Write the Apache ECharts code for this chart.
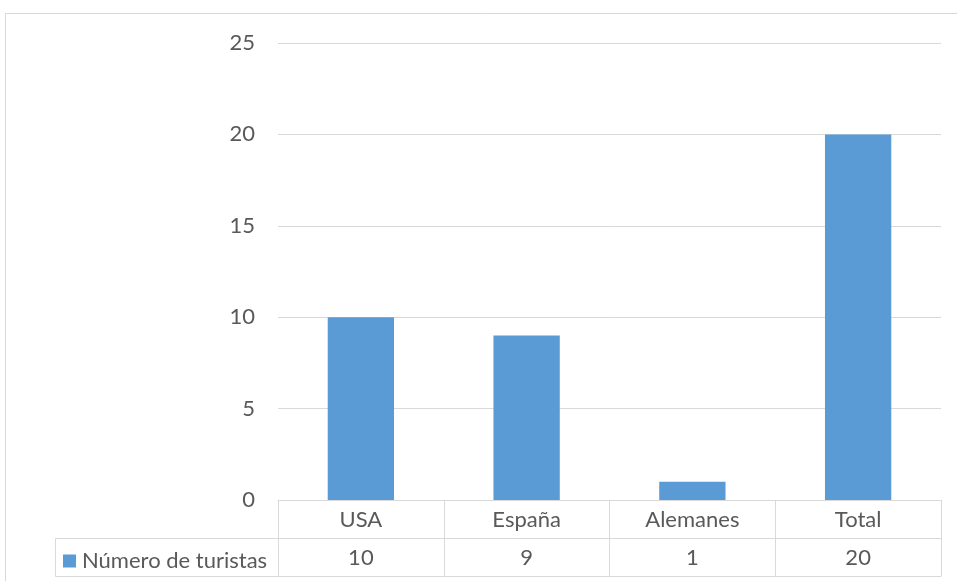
<!DOCTYPE html>
<html>
<head>
<meta charset="utf-8">
<script src="https://cdn.jsdelivr.net/npm/echarts@6/dist/echarts.min.js"></script>
<style>
html,body{margin:0;padding:0;background:#fff;}
#chart{width:957px;height:581px;}
</style>
</head>
<body>
<div id="chart"></div>
<script>
// Data
var categories = ['USA', 'España', 'Alemanes', 'Total'];
var seriesName = 'Número de turistas';
var values = [10, 9, 1, 20];
var yTicks = [0, 5, 10, 15, 20, 25];

// Layout constants
var W = 957, H = 581;
var GL = 278, GR = 16, GT = 43, GB = 81;
var ROW = 38;
var LEG_LEFT = 55;
var FONT = 'Lato, "Open Sans", sans-serif';
var FS = 22;
var TXT = '#595959';
var LINE = '#d9d9d9';
var BAR = '#5B9BD5';

var chart = echarts.init(document.getElementById('chart'), null, {renderer: 'canvas'});
var axisBottom = H - GB;

var option = {
  animation: false,
  backgroundColor: '#fff',
  grid: {left: GL, right: GR, top: GT, bottom: GB},
  legend: {
    data: [seriesName],
    left: LEG_LEFT + 8,
    top: axisBottom + ROW + 12,
    icon: 'rect',
    itemWidth: 13,
    itemHeight: 13,
    itemGap: 4,
    padding: 0,
    textStyle: {color: TXT, fontSize: FS, fontFamily: FONT, padding: [0, 0, 0, 1]}
  },
  xAxis: [
    {
      type: 'category',
      data: categories,
      position: 'bottom',
      axisLine: {show: true, lineStyle: {color: LINE, width: 1}},
      axisTick: {show: true, length: ROW, lineStyle: {color: LINE, width: 1}},
      axisLabel: {color: TXT, fontSize: FS, fontFamily: FONT, margin: 9}
    },
    {
      type: 'category',
      data: values.map(function (v) { return String(v); }),
      position: 'bottom',
      offset: ROW,
      axisLine: {show: true, lineStyle: {color: LINE, width: 1}},
      axisTick: {show: true, length: ROW, lineStyle: {color: LINE, width: 1}},
      axisLabel: {color: TXT, fontSize: FS, fontFamily: FONT, margin: 9}
    }
  ],
  yAxis: {
    type: 'value',
    min: yTicks[0],
    max: yTicks[yTicks.length - 1],
    interval: yTicks[1] - yTicks[0],
    axisLine: {show: false},
    axisTick: {show: false},
    splitLine: {lineStyle: {color: LINE, width: 1}},
    axisLabel: {color: TXT, fontSize: FS, fontFamily: FONT, margin: 23}
  },
  series: [{
    name: seriesName,
    type: 'bar',
    data: values,
    xAxisIndex: 0,
    barWidth: '40%',
    itemStyle: {color: BAR}
  }],
  graphic: [
    {
      type: 'rect',
      shape: {x: 5.5, y: 13.5, width: 1000, height: 1000},
      style: {fill: null, stroke: LINE, lineWidth: 1},
      silent: true, z: -1
    },
    {
      type: 'polyline',
      shape: {points: [
        [W - GR + 0.5, axisBottom + 2 * ROW + 0.5],
        [LEG_LEFT + 0.5, axisBottom + 2 * ROW + 0.5],
        [LEG_LEFT + 0.5, axisBottom + ROW + 0.5],
        [GL, axisBottom + ROW + 0.5]
      ]},
      style: {fill: null, stroke: LINE, lineWidth: 1},
      silent: true
    }
  ]
};
chart.setOption(option);
</script>
</body>
</html>
